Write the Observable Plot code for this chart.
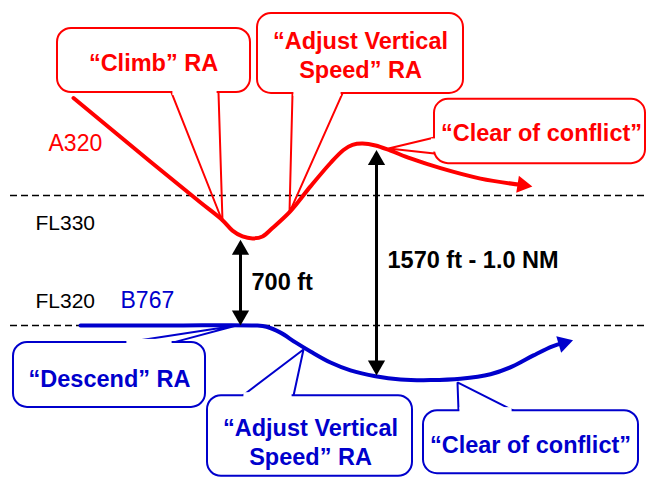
<!DOCTYPE html>
<html>
<head>
<meta charset="utf-8">
<script src="https://cdn.jsdelivr.net/npm/d3@7"></script>
<script src="https://cdn.jsdelivr.net/npm/@observablehq/plot@0.6"></script>
<style>
  html, body { margin: 0; padding: 0; background: #fff; }
  #chart svg { display: block; }
</style>
</head>
<body>
<div id="chart"></div>
<script>
// ---- Flight levels (altitude in ft) ----
const flLevels = [33000, 32000];
const flLabels = ["FL330", "FL320"];
const flLabelX = [35, 35];
const flLabelAlt = [32785, 32190];
const dashFrom = 10, dashTo = 646;

// ---- Aircraft trajectories: along-track position vs altitude (ft) ----
const a320Dist = [73, 150, 200, 222, 232, 242, 252, 262, 272, 290, 310, 330, 343, 352, 362, 375, 390, 410, 440, 480, 522];
const a320Alt  = [33750, 33260, 32946, 32810, 32730, 32685, 32670, 32685, 32750, 32880, 33070, 33250, 33350, 33390, 33400, 33385, 33345, 33285, 33210, 33130, 33080];
const b767Dist = [80, 170, 255, 266, 280, 295, 310, 330, 350, 375, 400, 430, 460, 490, 512, 533, 552, 563];
const b767Alt  = [32000, 32000, 32000, 31990, 31945, 31870, 31800, 31715, 31655, 31610, 31585, 31580, 31590, 31625, 31685, 31770, 31840, 31865];
const aircraftNames = ["A320", "B767"];
const aircraftColors = ["#ff0000", "#0000cc"];
const aircraftLabelX = [48, 120];
const aircraftLabelAlt = [33400, 32190];

// ---- Separation arrows ----
const sepX = [240, 376];
const sepTop = [32660, 33350];
const sepBottom = [32000, 31615];
const sepLabels = ["700 ft", "1570 ft - 1.0 NM"];
const sepLabelX = [251, 387];
const sepLabelAlt = [32330, 32500];

// ---- RA callouts ----
const calloutText = ["“Climb” RA", "“Adjust Vertical\nSpeed” RA", "“Clear of conflict”",
                     "“Descend” RA", "“Adjust Vertical\nSpeed” RA", "“Clear of conflict”"];
const calloutAircraft = [0, 0, 0, 1, 1, 1];
const calloutBoxX1 = [57, 257, 434, 13, 207, 423];
const calloutBoxX2 = [250, 463, 645, 205, 412, 638];
const calloutBoxTop = [34285, 34400, 33740, 31870, 31460, 31345];
const calloutBoxBottom = [33792, 33785, 33245, 31370, 30840, 30860];
const calloutTextX = [153, 360, 541, 109, 310, 530];
const calloutTextAlt = [34030, 34085, 33485, 31600, 31108, 31092];
const pointerBaseX = [[171, 218], [292, 342], [434, 434], [125, 173], [242, 293], [458, 513]];
const pointerBaseAlt = [[33792, 33792], [33785, 33785], [33446, 33323], [31870, 31870], [31460, 31460], [31345, 31345]];
const pointerTipX = [222, 289, 388, 236, 303, 457];
const pointerTipAlt = [32800, 32870, 33362, 32000, 31815, 31562];

// ---- Build ----
const W = 646, H = 478;
const yMin = 30823, yMax = 34500;
const pxPerFt = H / (yMax - yMin);
const font = "'Liberation Sans', Arial, Helvetica, sans-serif";

const a320 = a320Dist.map((d, i) => ({x: d, y: a320Alt[i]}));
const b767 = b767Dist.map((d, i) => ({x: d, y: b767Alt[i]}));

function headAngle(path) {
  const p0 = path[path.length - 2], p1 = path[path.length - 1];
  const dx = p1.x - p0.x;
  const dyDown = -(p1.y - p0.y) * pxPerFt;
  return Math.atan2(dx, -dyDown) * 180 / Math.PI;
}

const co = calloutText.map((t, i) => ({
  i, text: t, color: aircraftColors[calloutAircraft[i]],
  x1: calloutBoxX1[i], x2: calloutBoxX2[i], top: calloutBoxTop[i], bottom: calloutBoxBottom[i],
  tx: calloutTextX[i], ty: calloutTextAlt[i]
}));
const pointerPts = [];
const pointerCovers = [];
co.forEach((c, i) => {
  const bx = pointerBaseX[i], ba = pointerBaseAlt[i];
  pointerPts.push({k: i, color: c.color, x: bx[0], y: ba[0]});
  pointerPts.push({k: i, color: c.color, x: pointerTipX[i], y: pointerTipAlt[i]});
  pointerPts.push({k: i, color: c.color, x: bx[1], y: ba[1]});
  const ftPx = 1 / pxPerFt;
  if (ba[0] === ba[1]) {
    pointerCovers.push({x1: bx[0] + 1.4, x2: bx[1] - 1.4, y1: ba[0] - 3 * ftPx, y2: ba[0] + 3 * ftPx});
  } else {
    pointerCovers.push({x1: bx[0] - 3, x2: bx[0] + 3, y1: Math.min(...ba) + 1.4 * ftPx, y2: Math.max(...ba) - 1.4 * ftPx});
  }
});

const idx2 = [0, 1];
const headR = 6.4;

const chart = Plot.plot({
  width: W, height: H,
  margin: 0,
  x: {domain: [0, W], axis: null},
  y: {domain: [yMin, yMax], axis: null},
  style: {fontFamily: font, background: "white"},
  marks: [
    // flight-level dashed lines
    Plot.ruleY(flLevels, {y: d => d, x1: dashFrom, x2: dashTo, stroke: "black", strokeWidth: 1.5, strokeDasharray: "7,4"}),
    Plot.text(flLabels, {x: (d, i) => flLabelX[i], y: (d, i) => flLabelAlt[i], text: d => d, textAnchor: "start", fontSize: 21, fill: "black"}),

    // callout pointers (lines)
    Plot.line(pointerPts, {x: "x", y: "y", z: "k", stroke: "color", strokeWidth: 2, strokeLinejoin: "miter"}),

    // trajectories
    Plot.line(a320, {x: "x", y: "y", stroke: aircraftColors[0], strokeWidth: 4, curve: "catmull-rom"}),
    Plot.dot([a320[a320.length - 1]], {x: "x", y: "y", symbol: "triangle", r: headR, fill: aircraftColors[0], rotate: headAngle(a320)}),
    Plot.line(b767, {x: "x", y: "y", stroke: aircraftColors[1], strokeWidth: 4, curve: "catmull-rom"}),
    Plot.dot([b767[b767.length - 1]], {x: "x", y: "y", symbol: "triangle", r: headR, fill: aircraftColors[1], rotate: headAngle(b767)}),
    Plot.text(aircraftNames, {x: (d, i) => aircraftLabelX[i], y: (d, i) => aircraftLabelAlt[i], text: d => d, textAnchor: "start", fontSize: 23, fill: (d, i) => aircraftColors[i]}),

    // callout boxes
    Plot.rect(co, {x1: "x1", x2: "x2", y1: "bottom", y2: "top", rx: 14, fill: "white", stroke: "color", strokeWidth: 2}),
    Plot.rect(pointerCovers, {x1: "x1", x2: "x2", y1: "y1", y2: "y2", fill: "white"}),
    Plot.text(co, {x: "tx", y: "ty", text: "text", fill: "color", fontSize: 23.5, fontWeight: "bold", lineHeight: 1.2}),

    // separation arrows
    Plot.ruleX(idx2, {x: i => sepX[i], y1: i => sepTop[i], y2: i => sepBottom[i], stroke: "black", strokeWidth: 3, insetTop: 8, insetBottom: 8}),
    Plot.dot(idx2, {x: i => sepX[i], y: i => sepTop[i], symbol: "triangle", r: headR, fill: "black", dy: 10, rotate: 0}),
    Plot.dot(idx2, {x: i => sepX[i], y: i => sepBottom[i], symbol: "triangle", r: headR, fill: "black", dy: -10, rotate: 180}),
    Plot.text(idx2, {x: i => sepLabelX[i], y: i => sepLabelAlt[i], text: i => sepLabels[i], textAnchor: "start", fontSize: 23.5, fontWeight: "bold", fill: "black"})
  ]
});
document.getElementById("chart").appendChild(chart);
</script>
</body>
</html>
